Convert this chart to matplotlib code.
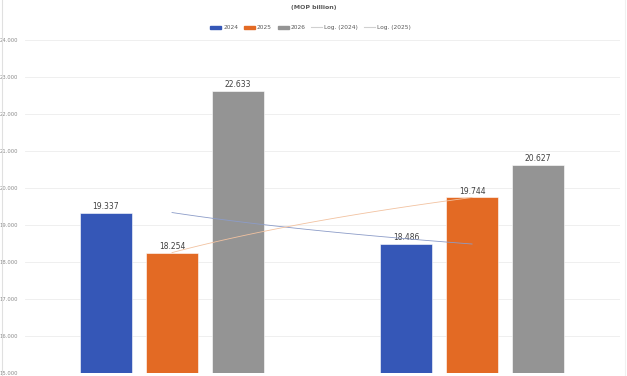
import numpy as np
import matplotlib.pyplot as plt
from matplotlib.patches import Patch
from matplotlib.lines import Line2D

# data (MOP billion)
groups = ['A', 'B']
years = ['2024', '2025', '2026']
vals_2024 = [19.337, 18.486]
vals_2025 = [18.254, 19.744]
vals_2026 = [22.633, 20.627]
y_ticks = [15, 16, 17, 18, 19, 20, 21, 22, 23, 24]

colors = {'2024': '#3557b7', '2025': '#e36a24', '2026': '#949494'}
trend_colors = {'2024': '#8c9cc8', '2025': '#f2c2a0'}

fig = plt.figure(figsize=(6.27, 3.76), dpi=100)
ax = fig.add_axes([25 / 627, 3 / 376, 595 / 627, 333 / 376])

x = np.arange(len(groups))
width = 0.173
offsets = [-0.22, 0.0, 0.22]
series = [vals_2024, vals_2025, vals_2026]

for yr, off, vals in zip(years, offsets, series):
    bars = ax.bar(x + off, vals, width, color=colors[yr], edgecolor='white',
                  linewidth=0.4, zorder=3)
    for b, v in zip(bars, vals):
        ax.text(b.get_x() + b.get_width() / 2, v + 0.05, f"{v:.3f}",
                ha='center', va='bottom', fontsize=5.5, color='#404040', zorder=4)

# logarithmic trendlines (Excel style), fitted on x = 1, 2
xs = np.linspace(1, 2, 60)
for yr, vals in (('2024', vals_2024), ('2025', vals_2025)):
    b = (vals[1] - vals[0]) / np.log(2)
    ys = vals[0] + b * np.log(xs)
    ax.plot(xs - 1, ys, color=trend_colors[yr], linewidth=0.6, zorder=5)

ax.set_xlim(-0.49, 1.493)
ax.set_ylim(15, 24)
ax.set_yticks(y_ticks)
ax.set_yticklabels([f"{t}.000" for t in y_ticks], fontsize=3.8, color='#8a8a8a')
ax.set_xticks([])
ax.tick_params(axis='y', length=0, pad=5)
ax.grid(axis='y', color='#ececec', linewidth=0.6, zorder=0)
for s in ax.spines.values():
    s.set_visible(False)

handles = [Patch(color=colors[y]) for y in years] + [
    Line2D([], [], color='#d0d0d0', linewidth=0.8),
    Line2D([], [], color='#d0d0d0', linewidth=0.8)]
labels = years + ['Log. (2024)', 'Log. (2025)']
fig.legend(handles, labels, loc='center', bbox_to_anchor=(0.495, 0.926), ncol=5,
           frameon=False, fontsize=4.2, handlelength=1.9, handleheight=0.5,
           columnspacing=1.0, handletextpad=0.3, labelcolor='#595959')

fig.text(0.5, 0.981, '(MOP billion)', ha='center', va='center', fontsize=4.5,
         color='#595959', fontweight='bold')

# faint frame lines at the edges, as in the screenshot
fig.add_artist(Line2D([2 / 627, 2 / 627], [0, 1], color='#e0e0e0', linewidth=0.8))
fig.add_artist(Line2D([625 / 627, 625 / 627], [0, 1], color='#f0f0f0', linewidth=0.8))

fig.savefig('out.png', dpi=100)
